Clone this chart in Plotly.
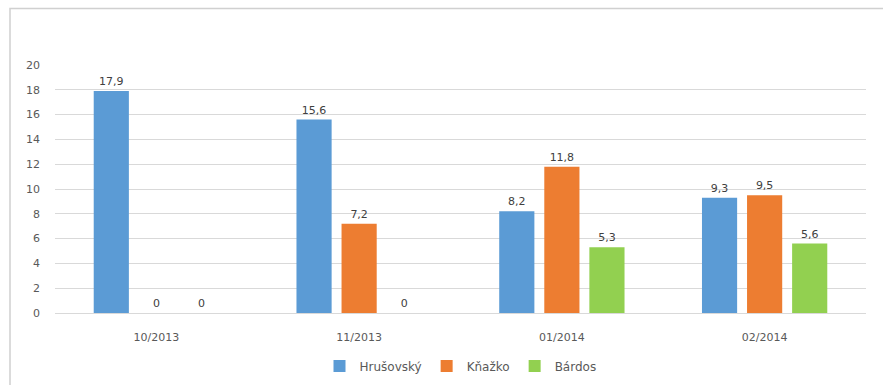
import plotly.graph_objects as go

categories = ["10/2013", "11/2013", "01/2014", "02/2014"]
series_names = ["Hrušovský", "Kňažko", "Bárdos"]
hrusovsky = [17.9, 15.6, 8.2, 9.3]
knazko = [0, 7.2, 11.8, 9.5]
bardos = [0, 0, 5.3, 5.6]
colors = ["#5B9BD5", "#ED7D31", "#92D050"]
y_ticks = [0, 2, 4, 6, 8, 10, 12, 14, 16, 18, 20]

FONT = "DejaVu Sans"


def fmt(v):
    s = ("%g" % v)
    return s.replace(".", ",")


fig = go.Figure()
for name, vals, col in zip(series_names, [hrusovsky, knazko, bardos], colors):
    fig.add_trace(go.Bar(
        x=categories, y=vals, name=name,
        marker=dict(color=col, line=dict(width=0)),
        text=[fmt(v) for v in vals], textposition="outside",
        textfont=dict(family=FONT, size=11, color="#404040"),
        cliponaxis=False,
    ))

fig.update_layout(
    width=883, height=385,
    margin=dict(l=55, r=17, t=65, b=72),
    paper_bgcolor="white", plot_bgcolor="white",
    barmode="group", bargap=0.333, bargroupgap=0.22,
    font=dict(family=FONT, size=11, color="#595959"),
    showlegend=True,
    legend=dict(orientation="h", x=0.5, xanchor="center",
                yref="container", y=(385 - 366) / 385, yanchor="middle",
                font=dict(family=FONT, size=12, color="#595959"),
                traceorder="normal"),
    xaxis=dict(showgrid=False, showline=True, linecolor="#D9D9D9", linewidth=1,
               ticks="", ticklabelstandoff=14, automargin=False,
               tickfont=dict(family=FONT, size=11, color="#595959")),
    yaxis=dict(range=[0, 20], tickvals=y_ticks, showgrid=True, gridcolor="#D9D9D9",
               gridwidth=1, zeroline=False, showline=False, ticks="",
               ticklabelstandoff=14, automargin=False,
               tickfont=dict(family=FONT, size=11, color="#595959")),
    shapes=[dict(type="rect", xref="paper", yref="paper",
                 x0=(10 - 55) / 811, x1=(900 - 55) / 811,
                 y0=(313 - 400) / 248, y1=(313 - 8.5) / 248,
                 line=dict(color="#D0D0D0", width=1.5), fillcolor="rgba(0,0,0,0)",
                 layer="below")],
)

fig.write_html("out.html")
